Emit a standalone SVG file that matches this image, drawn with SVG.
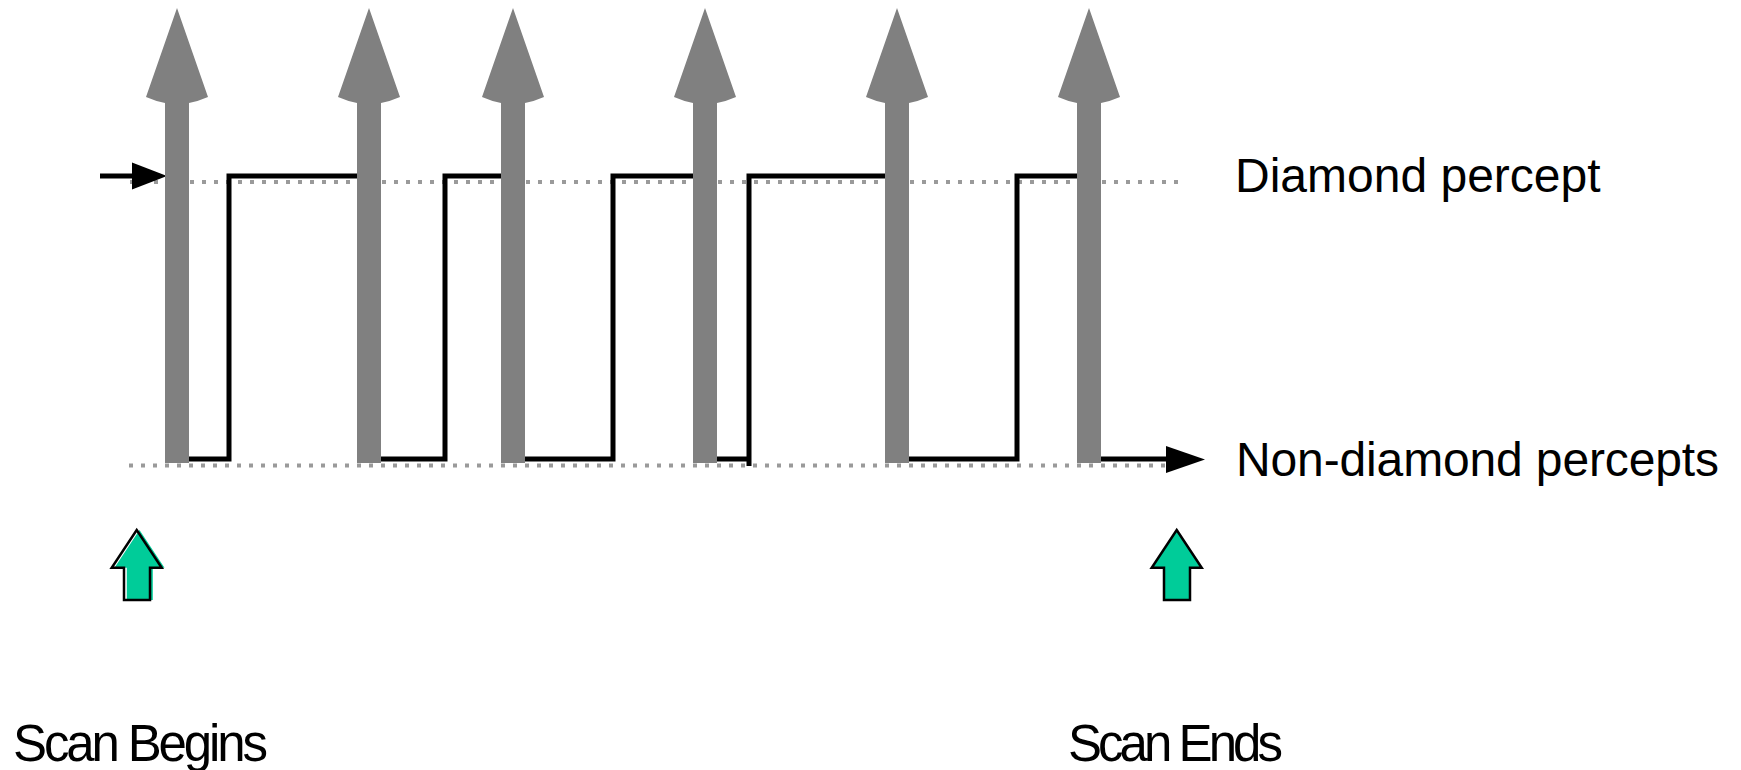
<svg xmlns="http://www.w3.org/2000/svg" width="1741" height="770" viewBox="0 0 1741 770">
<style>
.dot{stroke:#9a9a9a;stroke-width:4;stroke-dasharray:4 8;fill:none}
.sig{stroke:#000;stroke-width:5;fill:none;stroke-linejoin:miter}
.head{fill:#000}
.grey{fill:#808080}
.green{fill:#00CC99}
.outline{fill:none;stroke:#000;stroke-width:2.5;stroke-linejoin:miter}
.lbl{font-family:"Liberation Sans",Arial,sans-serif;fill:#000}
</style>
<defs>
<path id="garrow" d="M0,8 L31,97 Q22,101 12,103 V463 H-12 V103 Q-22,101 -31,97 Z"/>
<path id="uparrow" d="M0,0 L25,37.7 H13.3 V70 H-12.7 V37.7 H-25 Z"/>
</defs>
<g id="reference-lines">
<line class="dot" x1="130" y1="182" x2="1184" y2="182"/>
<line class="dot" x1="129" y1="465.5" x2="1166" y2="465.5"/>
</g>
<g id="connectors">
<path class="sig" d="M100,176 H136"/>
<polygon class="head" points="132,162.5 167,176 132,189.5"/>
<path class="sig" d="M177,459 H229 V176 H369 V459 H445 V176 H513 V459 H613 V176 H705 V459 H749 M749,466 V176 H897 V459 H1017 V176 H1089 V459 H1170"/>
<polygon class="head" points="1166,446 1205,459.5 1166,473"/>
</g>
<g id="scan-arrows">
<use href="#garrow" class="grey" x="177"/>
<use href="#garrow" class="grey" x="369"/>
<use href="#garrow" class="grey" x="513"/>
<use href="#garrow" class="grey" x="705"/>
<use href="#garrow" class="grey" x="897"/>
<use href="#garrow" class="grey" x="1089"/>
</g>
<g id="scan-begins-marker">
<use href="#uparrow" class="green" x="139.5" y="530"/>
<use href="#uparrow" class="outline" x="136.7" y="530"/>
</g>
<g id="scan-ends-marker">
<use href="#uparrow" class="green" x="1176.7" y="530"/>
<use href="#uparrow" class="outline" x="1176.7" y="530"/>
</g>
<g id="label-diamond">
<text class="lbl" x="1235" y="192" font-size="48">Diamond percept</text>
</g>
<g id="label-nondiamond">
<text class="lbl" x="1236" y="476" font-size="48" textLength="483">Non-diamond percepts</text>
</g>
<g id="label-scan-begins">
<text class="lbl" x="13" y="761" font-size="51" textLength="255">Scan Begins</text>
</g>
<g id="label-scan-ends">
<text class="lbl" x="1068" y="761" font-size="51" textLength="215">Scan Ends</text>
</g>
</svg>
